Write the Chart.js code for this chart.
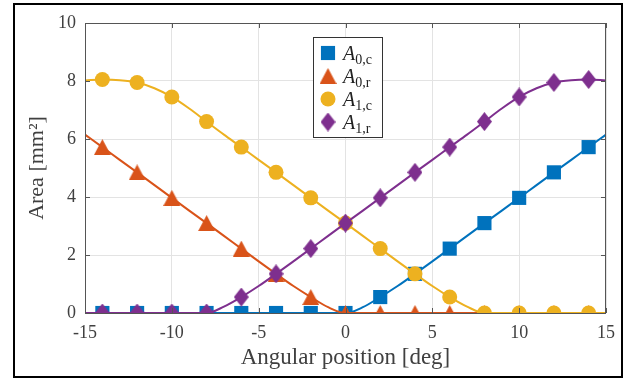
<!DOCTYPE html>
<html>
<head>
<meta charset="utf-8">
<script src="https://cdn.jsdelivr.net/npm/chart.js@4.4.0/dist/chart.umd.min.js"></script>
<style>
  html, body { margin: 0; padding: 0; background: #fff; }
</style>
</head>
<body>
<canvas id="myChart" width="630" height="382"></canvas>
<script>
// angular position [deg], one value per degree (markers only on even degrees)
const angles = [-15, -14, -13, -12, -11, -10, -9, -8, -7, -6, -5, -4, -3, -2, -1, 0,
                1, 2, 3, 4, 5, 6, 7, 8, 9, 10, 11, 12, 13, 14, 15];

// area [mm^2]
const a0c = [0, 0, 0, 0, 0, 0, 0, 0, 0, 0, 0, 0, 0, 0, 0, 0,
             0.2, 0.55, 0.93, 1.35, 1.78, 2.22, 2.66, 3.1, 3.53, 3.97, 4.41, 4.85, 5.28, 5.72, 6.15];
const a0r = [6.15, 5.72, 5.28, 4.85, 4.41, 3.97, 3.53, 3.1, 2.66, 2.22, 1.78, 1.35, 0.93, 0.55, 0.2, 0,
             0, 0, 0, 0, 0, 0, 0, 0, 0, 0, 0, 0, 0, 0, 0];
const a1c = [8.02, 8.05, 8.03, 7.95, 7.75, 7.45, 7.05, 6.6, 6.15, 5.72, 5.28, 4.85, 4.41, 3.97, 3.53, 3.1,
             2.66, 2.22, 1.78, 1.35, 0.93, 0.55, 0.22, 0, 0, 0, 0, 0, 0, 0, 0];
const a1r = [0, 0, 0, 0, 0, 0, 0, 0, 0.22, 0.55, 0.93, 1.35, 1.78, 2.22, 2.66, 3.1,
             3.53, 3.97, 4.41, 4.85, 5.28, 5.72, 6.15, 6.6, 7.05, 7.45, 7.75, 7.95, 8.03, 8.05, 8.02];

const xTicks = [-15, -10, -5, 0, 5, 10, 15];
const yTicks = [0, 2, 4, 6, 8, 10];

const seriesNames = ['0,c', '0,r', '1,c', '1,r'];

const BLUE = '#0072BD';
const ORANGE = '#D95319';
const YELLOW = '#EDB120';
const PURPLE = '#7E2F8E';
const FONT = "'Liberation Serif', 'Times New Roman', serif";
const TEXT = '#404040';

// custom marker shapes (MATLAB style triangle and diamond)
function makeTriangle(color) {
    const c = document.createElement('canvas');
    c.width = 17; c.height = 16;
    const g = c.getContext('2d');
    g.fillStyle = color;
    g.beginPath();
    g.moveTo(8.5, 0);
    g.lineTo(17, 16);
    g.lineTo(0, 16);
    g.closePath();
    g.fill();
    return c;
}
function makeDiamond(color) {
    const c = document.createElement('canvas');
    c.width = 15; c.height = 19;
    const g = c.getContext('2d');
    g.fillStyle = color;
    g.beginPath();
    g.moveTo(7.5, 0);
    g.lineTo(15, 9.5);
    g.lineTo(7.5, 19);
    g.lineTo(0, 9.5);
    g.closePath();
    g.fill();
    return c;
}
const triangleImg = makeTriangle(ORANGE);
const diamondImg = makeDiamond(PURPLE);

function pts(values) {
    return angles.map((a, i) => ({ x: a, y: values[i] }));
}
function markerRadius(r) {
    return ctx => (angles[ctx.dataIndex] % 2 === 0 ? r : 0);
}

const markers = [
    { pointStyle: 'rect', radius: 10, color: BLUE },
    { pointStyle: triangleImg, radius: 8, color: ORANGE },
    { pointStyle: 'circle', radius: 7.5, color: YELLOW },
    { pointStyle: diamondImg, radius: 8, color: PURPLE }
];

function makeDataset(values, m, order) {
    return {
        data: pts(values),
        borderColor: m.color,
        backgroundColor: m.color,
        borderWidth: 2,
        pointStyle: m.pointStyle,
        pointRadius: markerRadius(m.radius),
        pointBorderWidth: 0,
        pointBackgroundColor: m.color,
        cubicInterpolationMode: 'monotone',
        order: order
    };
}

// frame, plot box, inward ticks and legend
const decorations = {
    id: 'decorations',
    beforeDraw(chart) {
        const c = chart.ctx;
        c.save();
        c.fillStyle = '#fff';
        c.fillRect(0, 0, chart.width, chart.height);
        c.restore();
    },
    afterDraw(chart) {
        const c = chart.ctx;
        const a = chart.chartArea;
        const xs = chart.scales.x, ys = chart.scales.y;
        c.save();

        // axes box
        c.strokeStyle = '#555';
        c.lineWidth = 1;
        c.strokeRect(a.left + 0.5, a.top + 0.5, a.right - a.left - 1, a.bottom - a.top);

        // inward ticks
        c.beginPath();
        xTicks.forEach(v => {
            const px = Math.round(xs.getPixelForValue(v)) + 0.5;
            c.moveTo(px, a.bottom); c.lineTo(px, a.bottom - 5);
            c.moveTo(px, a.top); c.lineTo(px, a.top + 5);
        });
        yTicks.forEach(v => {
            const py = Math.round(ys.getPixelForValue(v)) + 0.5;
            c.moveTo(a.left, py); c.lineTo(a.left + 5, py);
            c.moveTo(a.right, py); c.lineTo(a.right - 5, py);
        });
        c.stroke();

        // legend
        const lx = 313, ly = 37, lw = 69, lh = 100;
        c.fillStyle = '#fff';
        c.fillRect(lx, ly, lw, lh);
        c.strokeStyle = '#333';
        c.strokeRect(lx + 0.5, ly + 0.5, lw, lh);
        const rows = [53, 76, 99, 122];
        markers.forEach((m, i) => {
            c.fillStyle = m.color;
            c.strokeStyle = m.color;
            Chart.helpers.drawPoint(c, {
                pointStyle: m.pointStyle, radius: m.radius, rotation: 0, borderWidth: 0
            }, 328, rows[i]);
            c.fillStyle = '#222';
            c.textBaseline = 'alphabetic';
            c.textAlign = 'left';
            c.font = 'italic 20px ' + FONT;
            c.fillText('A', 343, rows[i] + 7);
            const w = c.measureText('A').width;
            c.font = '14px ' + FONT;
            c.fillText(seriesNames[i], 343 + w, rows[i] + 11);
        });

        // outer frame
        c.strokeStyle = '#000';
        c.lineWidth = 2;
        c.strokeRect(14, 4, 608, 373);
        c.restore();
    }
};

const ctx = document.getElementById('myChart').getContext('2d');
window.myChart = new Chart(ctx, {
    type: 'line',
    data: {
        datasets: [
            makeDataset(a0c, markers[0], 4),
            makeDataset(a0r, markers[1], 3),
            makeDataset(a1c, markers[2], 2),
            makeDataset(a1r, markers[3], 1)
        ]
    },
    options: {
        responsive: false,
        animation: false,
        events: [],
        layout: { padding: { top: 23, right: 24, left: 0, bottom: 0 } },
        plugins: {
            legend: { display: false },
            tooltip: { enabled: false }
        },
        scales: {
            x: {
                type: 'linear',
                min: -15,
                max: 15,
                afterBuildTicks: scale => { scale.ticks = xTicks.map(v => ({ value: v })); },
                afterFit: scale => { scale.height = 69; },
                ticks: { color: TEXT, font: { family: FONT, size: 18 }, padding: 9, maxRotation: 0 },
                grid: { color: '#e3e3e3', lineWidth: 1, drawTicks: false },
                border: { display: false },
                title: {
                    display: true,
                    text: 'Angular position [deg]',
                    color: TEXT,
                    font: { family: FONT, size: 23 },
                    padding: { top: 0, bottom: 10 }
                }
            },
            y: {
                min: 0,
                max: 10,
                afterBuildTicks: scale => { scale.ticks = yTicks.map(v => ({ value: v })); },
                afterFit: scale => { scale.width = 85; },
                ticks: { color: TEXT, font: { family: FONT, size: 18 }, padding: 9 },
                grid: { color: '#e3e3e3', lineWidth: 1, drawTicks: false },
                border: { display: false },
                title: {
                    display: true,
                    text: 'Area [mm²]',
                    color: TEXT,
                    font: { family: FONT, size: 22 },
                    padding: { top: 24, bottom: 0 }
                }
            }
        }
    },
    plugins: [decorations]
});
</script>
</body>
</html>
